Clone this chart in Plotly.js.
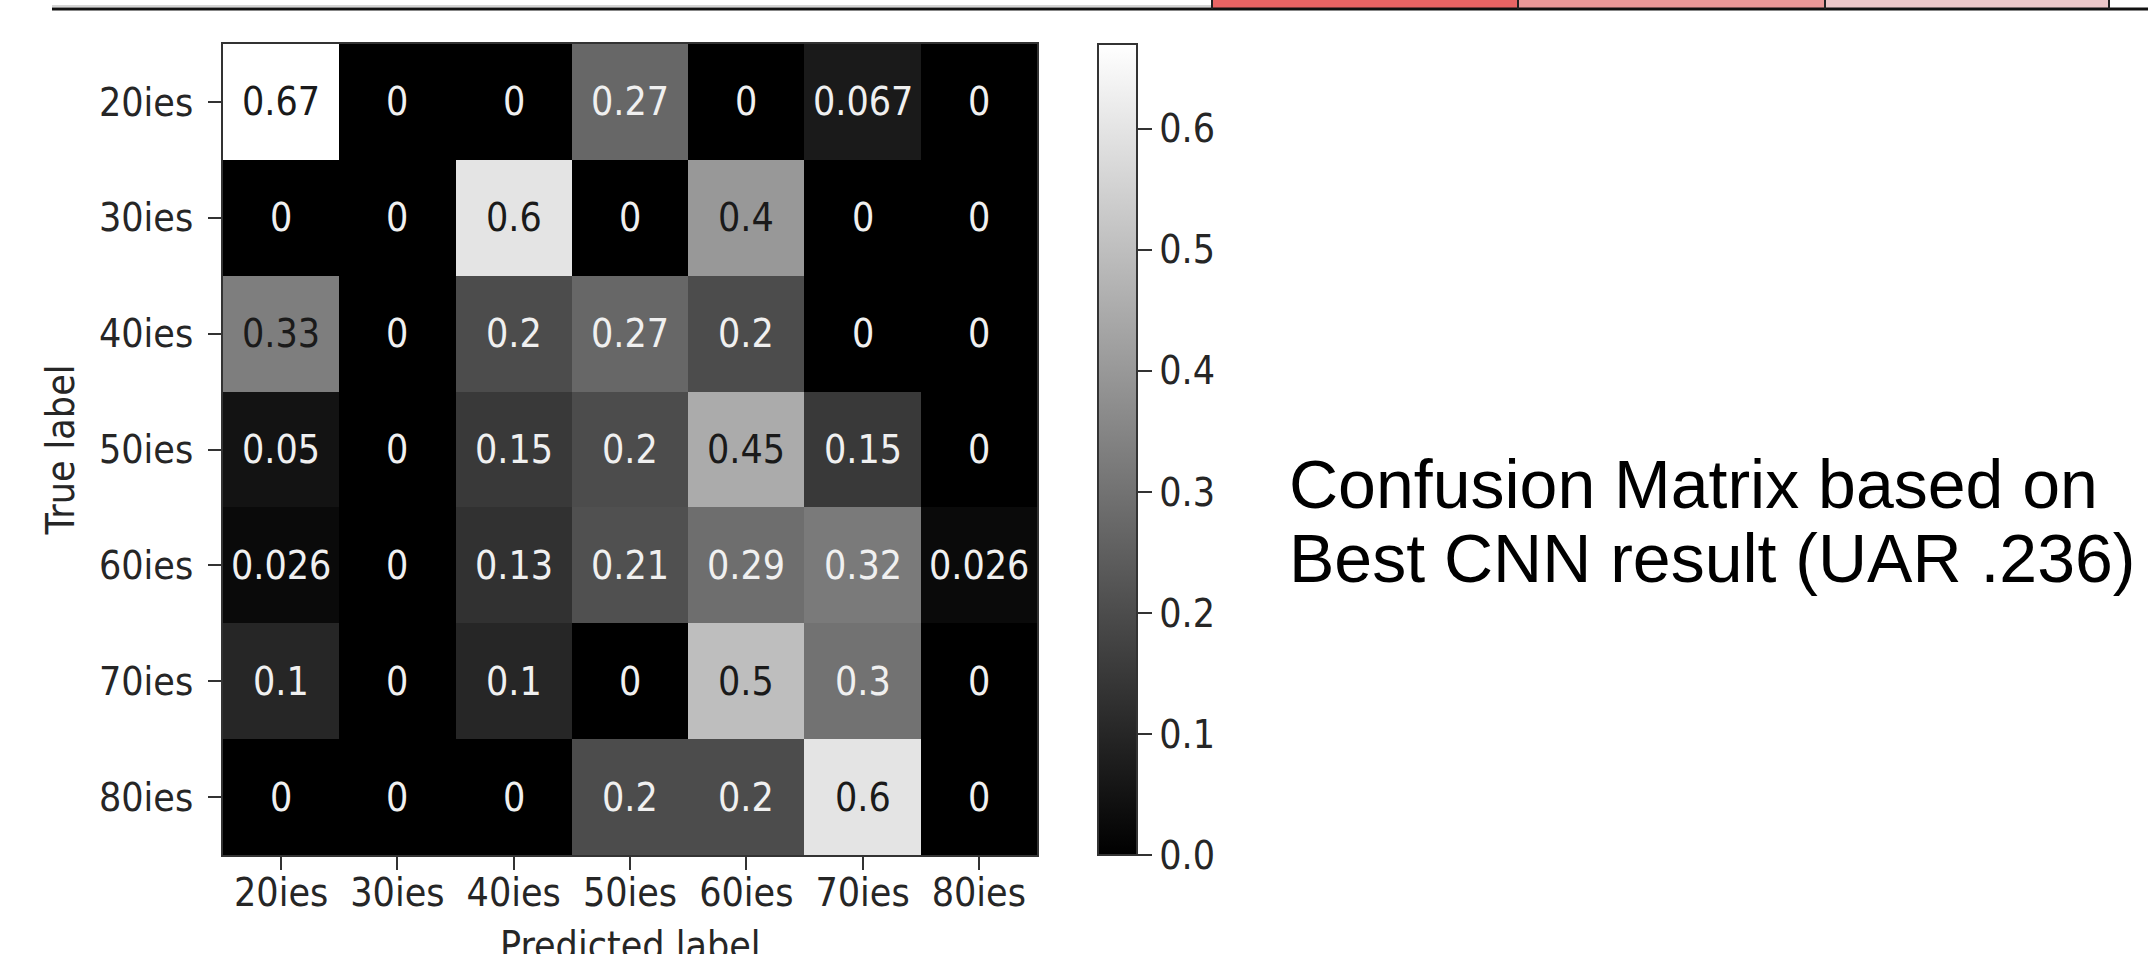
<!DOCTYPE html>
<html>
<head>
<meta charset="utf-8">
<script src="https://cdn.plot.ly/plotly-3.0.1.min.js"></script>
<style>
  html, body { margin: 0; padding: 0; background: #ffffff; }
  #chart { width: 2148px; height: 954px; }
</style>
</head>
<body>
<div id="chart"></div>
<script>
// ---------- data ----------
const trueLabels      = ['20ies', '30ies', '40ies', '50ies', '60ies', '70ies', '80ies'];
const predictedLabels = ['20ies', '30ies', '40ies', '50ies', '60ies', '70ies', '80ies'];

const row20ies = [0.67, 0, 0,    0.27, 0,    0.067, 0];
const row30ies = [0,    0, 0.6,  0,    0.4,  0,     0];
const row40ies = [0.33, 0, 0.2,  0.27, 0.2,  0,     0];
const row50ies = [0.05, 0, 0.15, 0.2,  0.45, 0.15,  0];
const row60ies = [0.026,0, 0.13, 0.21, 0.29, 0.32,  0.026];
const row70ies = [0.1,  0, 0.1,  0,    0.5,  0.3,   0];
const row80ies = [0,    0, 0,    0.2,  0.2,  0.6,   0];

const colorbarTickVals = [0, 0.1, 0.2, 0.3, 0.4, 0.5, 0.6];
const colorbarTickText = ['0.0', '0.1', '0.2', '0.3', '0.4', '0.5', '0.6'];

const xTitle = 'Predicted label';
const yTitle = 'True label';
const sideTextLine1 = 'Confusion Matrix based on';
const sideTextLine2 = 'Best CNN result (UAR .236)';

// ---------- layout helpers ----------
const W = 2148, H = 954;
const L = 223, R = 1037, T = 44, B = 855;   // plot area in pixels
const px = x => (x - L) / (R - L);
const py = y => (B - y) / (B - T);

const z = [row20ies, row30ies, row40ies, row50ies, row60ies, row70ies, row80ies];
let zmax = 0;
z.forEach(r => r.forEach(v => { if (v > zmax) zmax = v; }));
const thresh = Math.floor(zmax / 2 * 100) / 100;

const mplFont = '"DejaVu Sans Condensed", "DejaVu Sans", sans-serif';
const fs = 39;
const textCol = '#262626';

const annotations = [];
z.forEach((r, i) => r.forEach((v, j) => {
  annotations.push({
    x: predictedLabels[j], y: trueLabels[i], xref: 'x', yref: 'y',
    text: String(v), showarrow: false,
    font: { family: mplFont, size: fs, color: v < thresh ? '#f0f0f0' : '#1a1a1a' }
  });
}));

// x-axis title, partly cut by the bottom edge as in the reference
annotations.push({
  xref: 'paper', yref: 'paper', x: 0.5, y: py(921),
  xanchor: 'center', yanchor: 'top', showarrow: false,
  text: xTitle,
  font: { family: mplFont, size: fs, color: textCol }
});

annotations.push({
  xref: 'paper', yref: 'paper', x: px(1287), y: py(484),
  xanchor: 'left', yanchor: 'middle', showarrow: false,
  text: sideTextLine1,
  font: { family: '"Liberation Sans", Arial, sans-serif', size: 68, color: '#000' }
});
annotations.push({
  xref: 'paper', yref: 'paper', x: px(1287), y: py(558),
  xanchor: 'left', yanchor: 'middle', showarrow: false,
  text: sideTextLine2,
  font: { family: '"Liberation Sans", Arial, sans-serif', size: 68, color: '#000' }
});

// top strip (cut-off slide table)
const shapes = [
  { type: 'rect', xref: 'paper', yref: 'paper', x0: px(1213), x1: px(1518), y0: py(8), y1: py(-3), fillcolor: '#e96464', line: { width: 0 }, layer: 'above' },
  { type: 'rect', xref: 'paper', yref: 'paper', x0: px(1518), x1: px(1825), y0: py(8), y1: py(-3), fillcolor: '#eb9999', line: { width: 0 }, layer: 'above' },
  { type: 'rect', xref: 'paper', yref: 'paper', x0: px(1825), x1: px(2109), y0: py(8), y1: py(-3), fillcolor: '#ecc7c9', line: { width: 0 }, layer: 'above' },
  { type: 'line', xref: 'paper', yref: 'paper', x0: px(52), x1: px(2150), y0: py(9), y1: py(9), line: { color: '#111', width: 3 }, layer: 'above' },
  { type: 'line', xref: 'paper', yref: 'paper', x0: px(52), x1: px(1212), y0: py(6), y1: py(6), line: { color: '#aaa', width: 1 }, layer: 'above' },
  { type: 'line', xref: 'paper', yref: 'paper', x0: px(1212), x1: px(1212), y0: py(9), y1: py(-3), line: { color: '#222', width: 2 }, layer: 'above' },
  { type: 'line', xref: 'paper', yref: 'paper', x0: px(1518), x1: px(1518), y0: py(9), y1: py(-3), line: { color: '#222', width: 2 }, layer: 'above' },
  { type: 'line', xref: 'paper', yref: 'paper', x0: px(1825), x1: px(1825), y0: py(9), y1: py(-3), line: { color: '#222', width: 2 }, layer: 'above' },
  { type: 'line', xref: 'paper', yref: 'paper', x0: px(2109), x1: px(2109), y0: py(9), y1: py(-3), line: { color: '#222', width: 2 }, layer: 'above' }
];

const trace = {
  type: 'heatmap',
  x: predictedLabels,
  y: trueLabels,
  z: z,
  zmin: 0,
  zmax: zmax,
  colorscale: [[0, '#000000'], [1, '#ffffff']],
  hoverinfo: 'skip',
  colorbar: {
    x: px(1098), xanchor: 'left', xpad: 0, ypad: 0,
    y: 0.5, yanchor: 'middle', len: 1, lenmode: 'fraction',
    thickness: 39, thicknessmode: 'pixels',
    outlinewidth: 2, outlinecolor: '#333',
    tickmode: 'array', tickvals: colorbarTickVals, ticktext: colorbarTickText,
    ticks: 'outside', ticklen: 14, tickwidth: 2, tickcolor: '#333',
    ticklabelstandoff: 12,
    tickfont: { family: mplFont, size: fs, color: textCol }
  }
};

const axisCommon = {
  type: 'category',
  showgrid: false, zeroline: false,
  showline: true, mirror: true, linecolor: '#333', linewidth: 2,
  ticks: 'outside', ticklen: 13, tickwidth: 2, tickcolor: '#333',
  tickfont: { family: mplFont, size: fs, color: textCol },
  automargin: false
};

const layout = {
  width: W, height: H,
  margin: { l: L, r: W - R, t: T, b: H - B, pad: 0 },
  paper_bgcolor: '#ffffff', plot_bgcolor: '#ffffff',
  showlegend: false,
  xaxis: Object.assign({}, axisCommon, {
    range: [-0.5, 6.5],
    ticklabelstandoff: -11
  }),
  yaxis: Object.assign({}, axisCommon, {
    range: [6.5, -0.5],
    ticklabelstandoff: 7,
    title: { text: yTitle, standoff: 12, font: { family: mplFont, size: fs, color: textCol } }
  }),
  annotations: annotations,
  shapes: shapes
};

Plotly.newPlot('chart', [trace], layout, { displayModeBar: false, staticPlot: true });
</script>
</body>
</html>
